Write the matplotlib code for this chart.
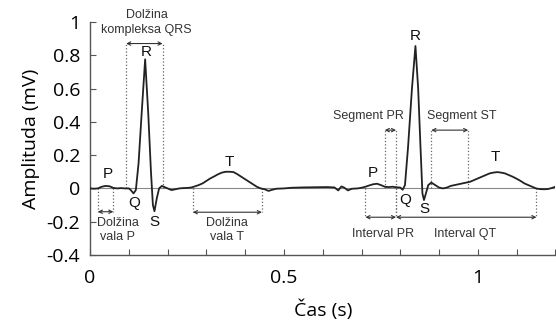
import matplotlib
matplotlib.use('Agg')
import matplotlib.pyplot as plt
from matplotlib.ticker import MultipleLocator

plt.rcParams['font.family'] = ['Open Sans', 'DejaVu Sans']

# EKG signal (s, mV)
cas = [0.00, 0.01, 0.02, 0.03, 0.04, 0.05, 0.06, 0.07, 0.08, 0.09, 0.10, 0.105,
       0.112, 0.118, 0.125, 0.133, 0.142, 0.150, 0.157, 0.162, 0.166, 0.172, 0.178,
       0.185, 0.19, 0.20, 0.21, 0.22, 0.23, 0.24, 0.25, 0.26, 0.27, 0.28, 0.29,
       0.30, 0.31, 0.32, 0.33, 0.34, 0.35, 0.36, 0.37, 0.38, 0.39, 0.40, 0.41,
       0.42, 0.43, 0.44, 0.45, 0.46, 0.47, 0.48, 0.50, 0.52, 0.55, 0.58, 0.61,
       0.63, 0.64, 0.648, 0.655, 0.665, 0.675, 0.69, 0.70, 0.71, 0.72, 0.73, 0.74,
       0.75, 0.76, 0.77, 0.78, 0.79, 0.80, 0.806, 0.812, 0.82, 0.83, 0.839, 0.846,
       0.852, 0.857, 0.861, 0.866, 0.872, 0.88, 0.89, 0.90, 0.91, 0.92, 0.93,
       0.94, 0.95, 0.96, 0.97, 0.98, 0.99, 1.00, 1.01, 1.02, 1.03, 1.04, 1.05,
       1.06, 1.07, 1.08, 1.09, 1.10, 1.11, 1.12, 1.13, 1.14, 1.15, 1.16, 1.17,
       1.18, 1.19, 1.20]
amplituda = [0.0, -0.002, 0.0, 0.01, 0.015, 0.013, 0.003, 0.0, 0.002, 0.0, 0.0, -0.01,
             -0.03, -0.01, 0.15, 0.45, 0.775, 0.45, 0.1, -0.1, -0.137, -0.06, 0.0,
             0.015, 0.01, 0.0, -0.01, -0.005, 0.0, 0.002, 0.003, 0.005, 0.012, 0.02, 0.03,
             0.045, 0.06, 0.072, 0.085, 0.095, 0.1, 0.1, 0.098, 0.085, 0.07, 0.055, 0.04,
             0.025, 0.01, 0.0, -0.005, -0.015, -0.008, -0.002, 0.0, 0.004, 0.006, 0.007, 0.008,
             0.006, -0.012, 0.012, 0.005, -0.012, -0.002, 0.0, 0.004, 0.01, 0.018, 0.025, 0.028,
             0.02, 0.01, 0.008, 0.01, 0.007, 0.005, -0.008, 0.02, 0.25, 0.6, 0.855, 0.6,
             0.25, -0.03, -0.07, -0.03, 0.02, 0.035, 0.02, 0.005, 0.0, 0.005, 0.015,
             0.02, 0.025, 0.03, 0.035, 0.04, 0.05, 0.06, 0.07, 0.08, 0.09, 0.095, 0.098,
             0.095, 0.09, 0.08, 0.07, 0.058, 0.045, 0.03, 0.02, 0.01, 0.0, -0.004, -0.005,
             -0.004, 0.002, 0.01]

# wave labels
val_oznake = ['P', 'Q', 'R', 'S', 'T', 'P', 'Q', 'R', 'S', 'T']
val_x = [0.047, 0.114, 0.146, 0.165, 0.358, 0.73, 0.812, 0.838, 0.863, 1.046]
val_y = [0.085, -0.09, 0.82, -0.2, 0.158, 0.092, -0.072, 0.917, -0.123, 0.19]

# measured intervals: start, end, arrow level
int_zacetek = [0.02, 0.093, 0.265, 0.76, 0.88, 0.71, 0.789]
int_konec = [0.06, 0.187, 0.443, 0.789, 0.975, 0.789, 1.151]
int_nivo = [-0.14, 0.87, -0.143, 0.35, 0.35, -0.173, -0.173]

# interval captions
opis_besedilo = ['Dolžina\nvala P', 'Dolžina\nkompleksa QRS', 'Dolžina\nvala T',
                 'Segment PR', 'Segment ST', 'Interval PR', 'Interval QT']
opis_x = [0.072, 0.146, 0.352, 0.717, 0.958, 0.756, 0.966]
opis_y = [-0.25, 0.995, -0.25, 0.434, 0.434, -0.273, -0.273]

fig, ax = plt.subplots(figsize=(5.56, 3.22), dpi=100)
fig.subplots_adjust(left=0.162, right=0.999, bottom=0.208, top=0.932)

ax.axhline(0, color='#888888', lw=0.8, zorder=1)
ax.plot(cas, amplituda, color='#222222', lw=1.3, zorder=3)

for x0, x1, yn in zip(int_zacetek, int_konec, int_nivo):
    ax.plot([x0, x0], [0, yn], ls=':', color='#666666', lw=0.9, zorder=2)
    ax.plot([x1, x1], [0, yn], ls=':', color='#666666', lw=0.9, zorder=2)
    ax.annotate('', xy=(x0, yn), xytext=(x1, yn),
                arrowprops=dict(arrowstyle='<->', color='#333333', lw=0.8,
                                shrinkA=0, shrinkB=0, mutation_scale=6))

for s, x, y in zip(opis_besedilo, opis_x, opis_y):
    ax.text(x, y, s, ha='center', va='center', fontsize=9, color='#333333',
            family=['Liberation Sans', 'DejaVu Sans'], linespacing=1.3)

for s, x, y in zip(val_oznake, val_x, val_y):
    ax.text(x, y, s, ha='center', va='center', fontsize=11, color='#111111',
            family=['Liberation Sans', 'DejaVu Sans'])

ax.set_xlim(0, 1.2)
ax.set_ylim(-0.4, 1)
ax.xaxis.set_major_locator(MultipleLocator(0.5))
ax.xaxis.set_minor_locator(MultipleLocator(0.1))
ax.yaxis.set_major_locator(MultipleLocator(0.2))
ax.xaxis.set_major_formatter(plt.FuncFormatter(lambda v, p: f'{v:g}'))
ax.yaxis.set_major_formatter(plt.FuncFormatter(lambda v, p: f'{v:g}'))
ax.tick_params(which='both', direction='in', length=4, width=0.8, color='#555555',
               labelsize=14, pad=7)
ax.tick_params(axis='x', pad=10)

for side in ['top', 'right']:
    ax.spines[side].set_visible(False)
for side in ['left', 'bottom']:
    ax.spines[side].set_color('#555555')
    ax.spines[side].set_linewidth(1.0)

ax.set_xlabel('Čas (s)', fontsize=14, labelpad=9)
ax.set_ylabel('Amplituda (mV)', fontsize=14, labelpad=5)

fig.savefig('out.png', dpi=100)
